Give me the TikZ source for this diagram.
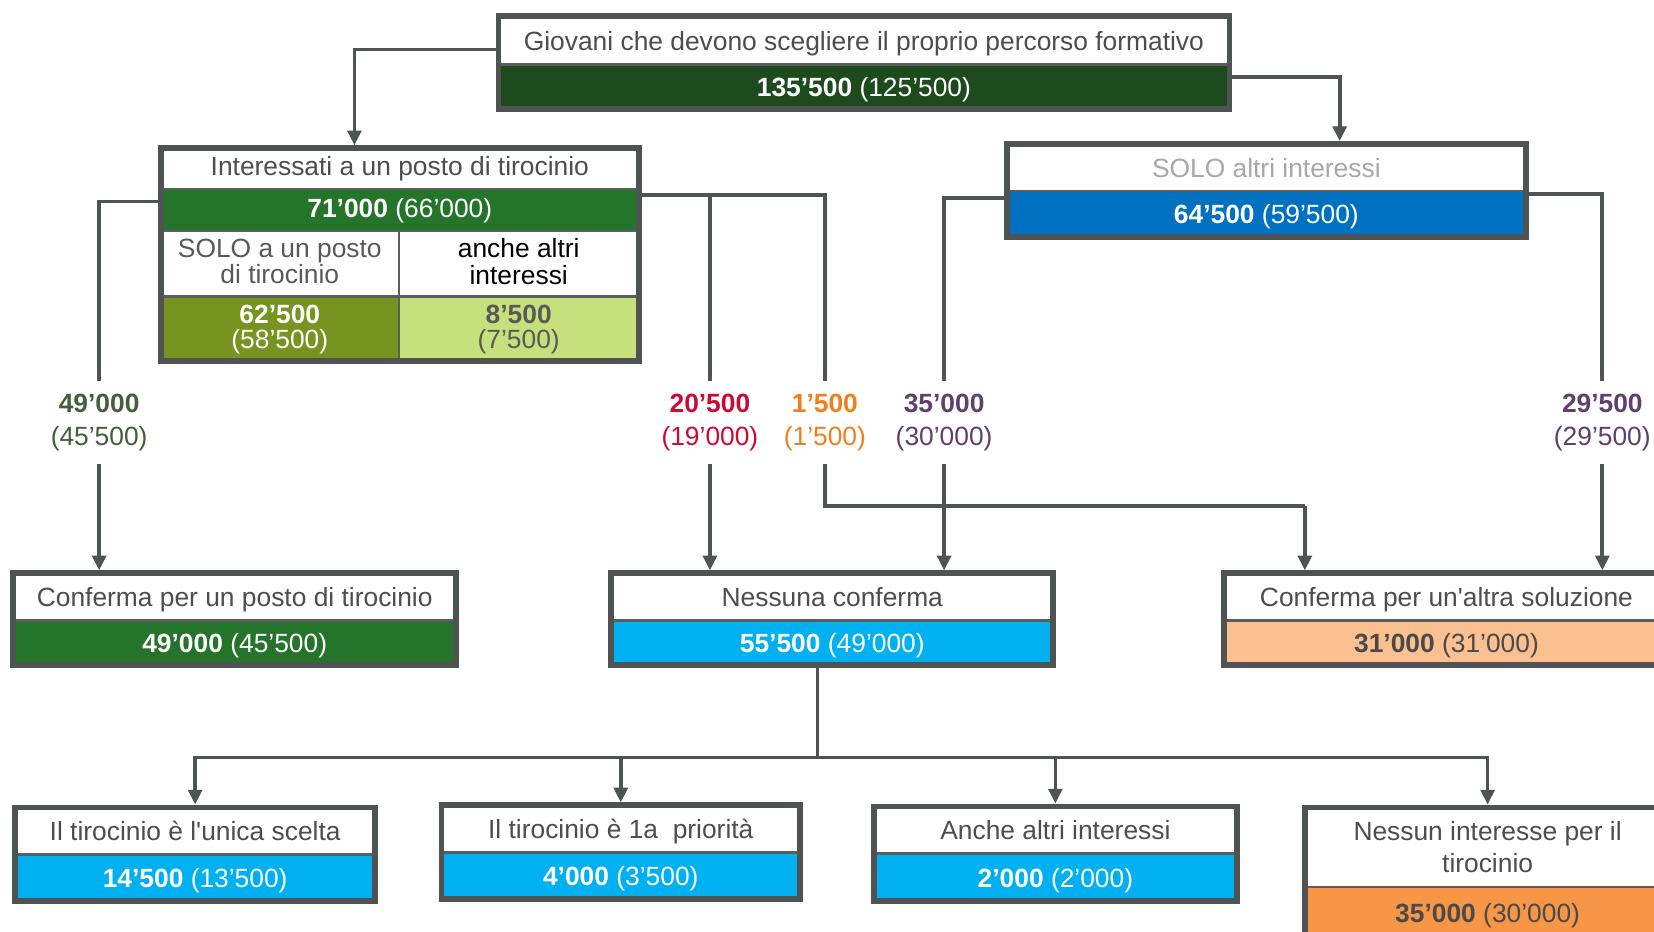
\documentclass[tikz,border=0pt]{standalone}
\usepackage{fontspec}
\setmainfont{Liberation Sans}
\usetikzlibrary{arrows.meta,fit}
\definecolor{linegray}{HTML}{4F5351}
\definecolor{divgray}{HTML}{5A5E5C}
\definecolor{txtgray}{HTML}{4D4D4D}
\definecolor{subgray}{HTML}{595959}
\definecolor{lightgray}{HTML}{A8A8A8}
\definecolor{darkgreen}{HTML}{1D4B1D}
\definecolor{midgreen}{HTML}{25742B}
\definecolor{olive}{HTML}{76941F}
\definecolor{lightgreen}{HTML}{C6E07C}
\definecolor{blue}{HTML}{0070C0}
\definecolor{cyan}{HTML}{00B0F0}
\definecolor{peach}{HTML}{FAC090}
\definecolor{orange}{HTML}{F79646}
\definecolor{valgray}{HTML}{4A4A4A}
\definecolor{lbgreen}{HTML}{43603A}
\definecolor{lbred}{HTML}{CC0A36}
\definecolor{lborange}{HTML}{F07F1F}
\definecolor{lbpurple}{HTML}{5F3F6B}
\newcommand{\hfont}{\fontsize{25}{30}\selectfont}
\newcommand{\subfont}{\fontsize{25}{25}\selectfont}
\newcommand{\valfont}{\fontsize{25}{24}\selectfont}
\newcommand{\lblfont}{\fontsize{25}{31}\selectfont}
\newcommand{\statbox}[9]{%
  \fill[#9] (#2,#5) rectangle (#4,#6);
  \node[hdrtext] (#1H) at ({(#2+#4)/2},{(#3+#5)/2}) {#7};
  \node[valtext] (#1V) at ({(#2+#4)/2},{(#5+#6)/2}) {#8};
  \draw[divline] (#2,#5) -- (#4,#5);
  \node[frame, fit={(#2,#3) (#4,#6)}] (#1) {};
}
\begin{document}
\begin{tikzpicture}[x=1pt,y=-1pt,
  hdrtext/.style={text=txtgray, font=\hfont, inner sep=0pt, align=center, text height=18.5pt, text depth=0pt},
  valtext/.style={text=white, font=\hfont, inner sep=0pt, align=center, text height=18.5pt, text depth=0pt},
  divline/.style={draw=divgray, line width=2.5pt},
  frame/.style={draw=linegray, line width=5.5pt, inner sep=0pt, rectangle},
  conn/.style={draw=linegray, line width=3.5pt},
  arr/.style={conn, -{Triangle[width=13pt,length=14pt]}},
  lbl/.style={align=center, font=\lblfont, inner sep=0pt, minimum height=79pt}]
\useasboundingbox (0,0) rectangle (1568,883.5);
\clip (0,0) rectangle (1568,883.5);
\fill[white] (0,0) rectangle (1568,883.5);

% top box
\statbox{g}{472.5}{15.5}{1165.5}{61}{103.5}{Giovani che devono scegliere il proprio percorso formativo}{\textbf{135’500} (125’500)}{darkgreen}

% Interessati box
\fill[midgreen] (152.5,179) rectangle (605.5,219);
\fill[olive] (152.5,281) rectangle (378,342.5);
\fill[lightgreen] (378,281) rectangle (605.5,342.5);
\draw[divline] (152.5,179) -- (605.5,179);
\draw[divline] (152.5,219) -- (605.5,219);
\draw[divline] (152.5,281) -- (605.5,281);
\draw[divline, line width=2pt] (378,219) -- (378,342.5);
\node[hdrtext] (iH) at (379,157.5) {Interessati a un posto di tirocinio};
\node[valtext] (iV) at (379,196.5) {\textbf{71’000} (66’000)};
\node[align=center, inner sep=0pt, text=subgray, font=\subfont] (iSL) at (265.25,248) {SOLO a un posto\\di tirocinio};
\node[align=center, inner sep=0pt, text=black, font=\subfont] (iSR) at (491.75,248) {anche altri\\interessi};
\node[align=center, inner sep=0pt, text=white, font=\valfont] (iVL) at (265.25,312.5) {\textbf{62’500}\\(58’500)};
\node[align=center, inner sep=0pt, text=subgray, font=\valfont] (iVR) at (491.75,312.5) {\textbf{8’500}\\(7’500)};
\node[frame, fit={(152.5,140.5) (605.5,342.5)}] (i) {};

% SOLO altri interessi
\statbox{s}{954.5}{136.5}{1446.5}{181}{224.5}{\textcolor{lightgray}{SOLO altri interessi}}{\textbf{64’500} (59’500)}{blue}

% middle row
\statbox{cp}{12.5}{543.5}{432.5}{588}{630.5}{Conferma per un posto di tirocinio}{\textbf{49’000} (45’500)}{midgreen}
\statbox{nc}{579.5}{543.5}{998.5}{588}{630.5}{Nessuna conferma}{\textbf{55’500} (49’000)}{cyan}
\statbox{ca}{1160.5}{543.5}{1582}{588}{630.5}{Conferma per un\textquotesingle altra soluzione}{\textcolor{valgray}{\textbf{31’000} (31’000)}}{peach}

% bottom row
\statbox{ua}{14.5}{765.5}{355.5}{810}{854.5}{Il tirocinio è l\textquotesingle unica scelta}{\textbf{14’500} (13’500)}{cyan}
\statbox{ub}{418.5}{763.5}{758.5}{808}{852.5}{Il tirocinio è 1a~ priorità}{\textbf{4’000} (3’500)}{cyan}
\statbox{uc}{828.5}{764.5}{1172.5}{809}{854.5}{Anche altri interessi}{\textbf{2’000} (2’000)}{cyan}
\begin{scope}[hdrtext/.append style={text height={}, text depth={}}]
\statbox{ud}{1237.5}{765.5}{1583}{841}{889}{Nessun interesse per il\\tirocinio}{\textcolor{valgray}{\textbf{35’000} (30’000)}}{orange}
\end{scope}

% labels
\node[lbl, text=lbgreen] (l1) at (94,400.5) {\textbf{49’000}\\(45’500)};
\node[lbl, text=lbred] (l2) at (673,400.5) {\textbf{20’500}\\(19’000)};
\node[lbl, text=lborange] (l3) at (782,400.5) {\textbf{1’500}\\(1’500)};
\node[lbl, text=lbpurple] (l4) at (895,400.5) {\textbf{35’000}\\(30’000)};
\node[lbl, text=lbpurple] (l5) at (1519,400.5) {\textbf{29’500}\\(29’500)};

% helper coordinates
\coordinate (r1) at (0,47);
\coordinate (k1) at (336,0);
\coordinate (r2) at (0,73);
\coordinate (k2) at (1270,0);
\coordinate (r3) at (0,191);
\coordinate (r4) at (0,185);
\coordinate (r5) at (0,188);
\coordinate (r6) at (0,184);
\coordinate (h1) at (0,480);
\coordinate (k3) at (1237,0);
\coordinate (hb) at (775,718);

% connectors
\draw[arr] (g.west |- r1) -| (i.north -| k1);
\draw[arr] (g.east |- r2) -| (s.north -| k2);
\draw[conn] (i.west |- r3) -| (l1.north);
\draw[arr] (l1.south) -- (cp.north -| l1.south);
\draw[conn] (i.east |- r4) -| (l2.north);
\draw[arr] (l2.south) -- (nc.north -| l2.south);
\draw[conn] (i.east |- r4) -| (l3.north);
\draw[conn] (l3.south) |- (h1 -| k3);
\draw[arr] (h1 -| k3) -- (ca.north -| k3);
\draw[conn] (s.west |- r5) -| (l4.north);
\draw[arr] (l4.south) -- (nc.north -| l4.south);
\draw[conn] (s.east |- r6) -| (l5.north);
\draw[arr] (l5.south) -- (ca.north -| l5.south);
\draw[conn] (nc.south -| hb) -- (hb);
\draw[conn, line cap=rect] (ua.north |- hb) -- (ud.north |- hb);
\draw[arr] (ua.north |- hb) -- (ua.north);
\draw[arr] (ub.north |- hb) -- (ub.north);
\draw[arr] (uc.north |- hb) -- (uc.north);
\draw[arr] (ud.north |- hb) -- (ud.north);
\end{tikzpicture}
\end{document}
